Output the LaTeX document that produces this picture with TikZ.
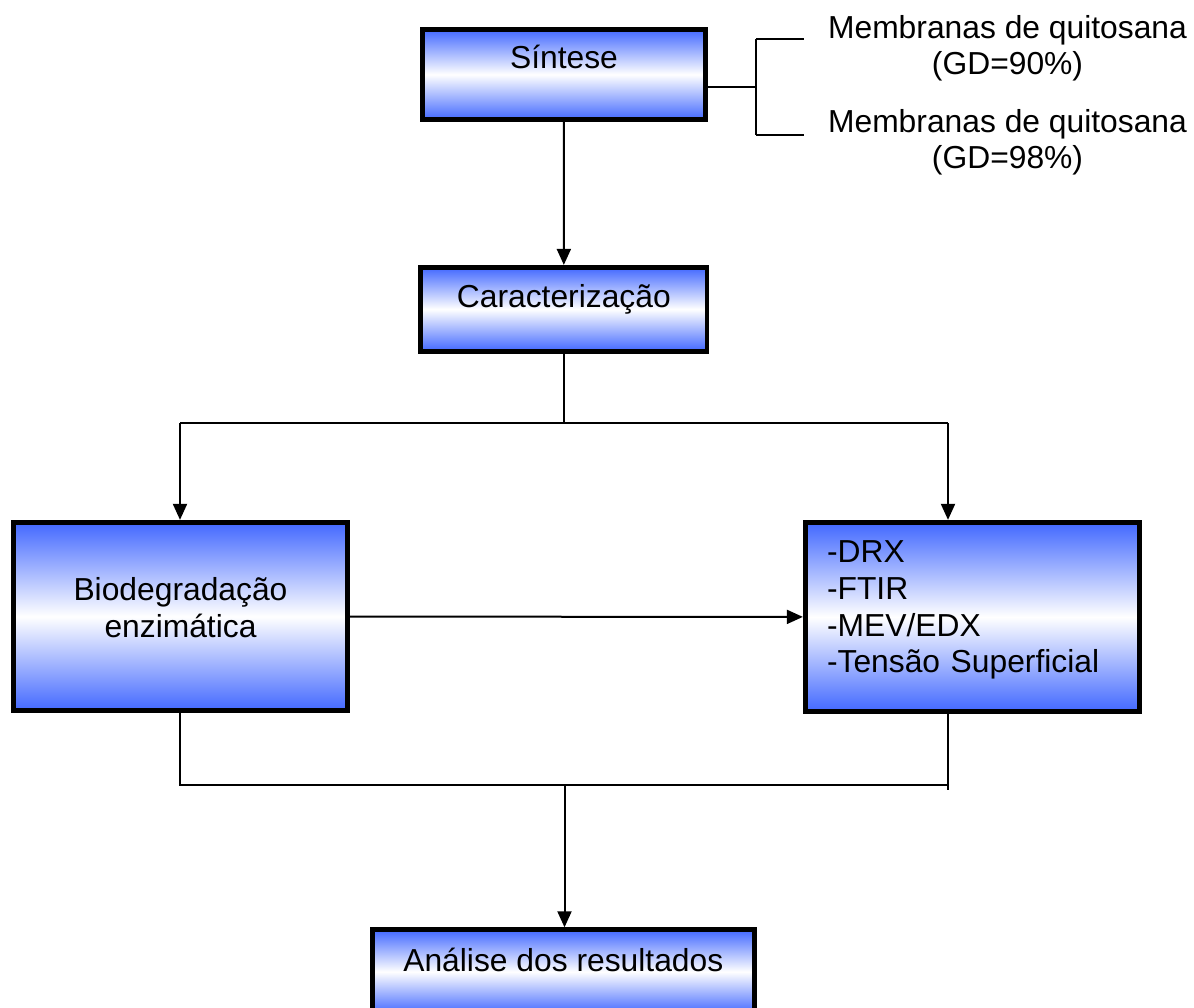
\documentclass[tikz,border=0pt]{standalone}
\usepackage{fontspec}
\setmainfont{Liberation Sans}
\usetikzlibrary{arrows.meta, positioning}
\definecolor{caixaazul}{RGB}{66,104,255}

\begin{document}
\begin{tikzpicture}[x=1pt, y=-1pt,
    caixa/.style={draw=black, line width=4.8pt, top color=caixaazul, bottom color=caixaazul,
        middle color=white, inner sep=0pt, font=\fontsize{31.8}{36.7}\selectfont},
    seta/.style={line width=2pt, -{Triangle[length=16pt, width=14pt]}},
    linha/.style={line width=2pt},
    rotulo/.style={inner sep=0pt, align=center, font=\fontsize{31.8}{36.7}\selectfont}]
\useasboundingbox (0,0) rectangle (1194,1007);
\clip (0,0) rectangle (1194,1007);

% caixas
\node[caixa, minimum width=283.5pt, minimum height=90.5pt, text height=0pt, text depth=12.4pt]
    (sintese) at (564,74.5) {Síntese};
\node[caixa, minimum width=286.5pt, minimum height=83.8pt, text height=0pt, text depth=3pt]
    (caract) at (563.8,309.2) {Caracterização};
\node[caixa, minimum width=334.5pt, minimum height=188.5pt, align=center, text height=41pt, text depth=0pt]
    (bio) at (180.5,616.5) {Biodegradação\\enzimática};
\node[caixa, minimum width=334.5pt, minimum height=189.5pt, text width=291pt, align=left,
    text height=0pt, text depth=108.6pt]
    (tecnicas) at (972.5,617) {-DRX\\-FTIR\\-MEV/EDX\\-Tensão Superficial};
\node[caixa, minimum width=382pt, minimum height=84pt, text height=0pt, text depth=0pt]
    (analise) at (563.3,971.7) {Análise dos resultados};

% membranas
\node[rotulo, anchor=north] (memb90) at (1007.5,15) {Membranas de quitosana\\(GD=90\%)};
\node[rotulo, anchor=north] (memb98) at (1007.5,109) {Membranas de quitosana\\(GD=98\%)};

% pontos de ligacao
\coordinate (chave) at (756,87);
\coordinate (chaveA) at (756,39);
\coordinate (chaveB) at (756,135);
\coordinate (ramoE) at (180,423);
\coordinate (ramoD) at (948,423);
\coordinate (baseE) at (180,785);
\coordinate (baseD) at (948,785);
\coordinate (juncao) at (564.5,785);

% chave das membranas
\draw[linha] (sintese.east |- chave) -- (chave);
\draw[linha] (chaveA) -- (chaveB);
\draw[linha] (chaveA) -- ++(48,0);
\draw[linha] (chaveB) -- ++(48,0);

% fluxo
\draw[seta] (sintese) -- (caract);
\draw[linha] (caract.south) -- (caract.south |- ramoE);
\draw[linha] (ramoE) -- (ramoD);
\draw[seta] (ramoE) -- (ramoE |- bio.north);
\draw[seta] (ramoD) -- (ramoD |- tecnicas.north);
\draw[seta] (bio) -- (tecnicas);
\draw[linha] (baseE |- bio.south) -- (baseE) -- (baseD);
\draw[linha] (baseD |- tecnicas.south) -- ([yshift=-5pt]baseD);
\draw[seta] (juncao) -- (juncao |- analise.north);
\end{tikzpicture}
\end{document}
